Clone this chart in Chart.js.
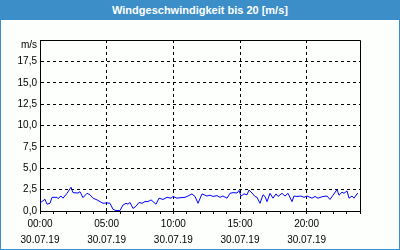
<!DOCTYPE html>
<html>
<head>
<meta charset="utf-8">
<script src="https://cdn.jsdelivr.net/npm/chart.js@4.4.1/dist/chart.umd.min.js"></script>
<style>
  html, body { margin: 0; padding: 0; background: #fdfffd; }
  #frame { position: relative; width: 400px; height: 250px; overflow: hidden; }
  #title {
    position: absolute; left: 0; top: 0; width: 400px; height: 20px;
    background: #3c8ec8; color: #fff; text-align: center;
    font: bold 11px "Liberation Sans", sans-serif; line-height: 20px;
  }
  #box {
    position: absolute; left: 0; top: 20px; width: 398px; height: 229px;
    border: 1px solid #3c8ec8; border-top: none; background: #fdfffd;
  }
  canvas { display: block; }
</style>
</head>
<body>
<div id="frame">
  <div id="title">Windgeschwindigkeit bis 20 [m/s]</div>
  <div id="box"><canvas id="windChart" width="398" height="229"></canvas></div>
</div>
<script>
// Daten (Stunden ab 00:00 am 30.07.19, Wind in m/s)
const hours = [
  0, 0.375, 0.525, 0.75, 0.9, 1.275, 1.35, 1.575, 1.725, 2.025,
  2.325, 2.475, 2.85, 3.0, 3.225, 3.525, 3.75, 3.975, 4.275, 4.5,
  4.725, 5.025, 5.25, 5.475, 5.7, 6.0, 6.225, 6.45, 6.6, 6.75,
  6.975, 7.2, 7.425, 7.65, 7.875, 8.1, 8.325, 8.475, 8.7, 8.925,
  9.225, 9.525, 9.825, 9.975, 10.275, 10.5, 10.875, 11.1, 11.4, 11.625,
  11.85, 12.15, 12.525, 12.75, 12.975, 13.275, 13.5, 13.725, 14.025, 14.25,
  14.475, 14.775, 14.925, 15.075, 15.3, 15.525, 15.675, 15.9, 16.125, 16.275,
  16.5, 16.725, 16.875, 17.025, 17.25, 17.475, 17.7, 17.85, 18.15, 18.375,
  18.6, 18.9, 19.05, 19.275, 19.575, 19.8, 20.025, 20.4, 20.625, 20.85,
  21.225, 21.525, 21.75, 21.975, 22.275, 22.425, 22.65, 22.8, 23.025, 23.175,
  23.4, 23.55, 23.775, 23.85
];
const speeds = [
  0.94, 1.37, 0.8, 0.9, 1.6, 1.6, 1.45, 1.75, 1.5, 2.07,
  2.78, 2.15, 2.1, 2.26, 1.56, 2.07, 1.9, 1.5, 1.3, 1.1,
  0.9, 0.95, 0.9, 0.2, 0.05, 0.05, 0.7, 0.9, 0.8, 1.0,
  0.3, 0.55, 1.0, 0.9, 1.1, 1.1, 1.3, 1.1, 0.8, 1.5,
  1.35, 1.6, 1.5, 1.7, 1.5, 1.55, 1.6, 1.75, 2.0, 1.7,
  0.9, 2.0, 1.75, 1.85, 1.7, 1.8, 1.6, 1.75, 1.5, 2.07,
  2.15, 2.1, 2.4, 1.75, 2.0, 1.9, 2.45, 2.1, 1.7, 1.6,
  0.9, 1.9, 1.7, 1.1, 2.07, 1.5, 2.0, 1.7, 2.07, 1.75,
  2.07, 1.1, 1.75, 1.7, 1.75, 1.6, 1.75, 1.5, 1.7, 1.5,
  1.7, 1.75, 1.35, 1.85, 2.5, 1.85, 2.2, 2.07, 2.35, 1.5,
  1.75, 1.5, 2.0, 2.07
];
const xLabels = ["00:00", "05:00", "10:00", "15:00", "20:00"];
const datum = "30.07.19";
const yUnit = "m/s";

const points = hours.map((h, i) => ({ x: h, y: speeds[i] }));
const schrift = { family: "Liberation Sans", size: 10 };

// Rahmen oben/rechts und Einheit über der Y-Achse
const rahmenPlugin = {
  id: "rahmen",
  afterDraw(chart) {
    const { ctx, chartArea } = chart;
    ctx.save();
    ctx.strokeStyle = "#000";
    ctx.lineWidth = 1;
    ctx.beginPath();
    ctx.moveTo(Math.round(chartArea.left) + 0.5, Math.round(chartArea.top) + 0.5);
    ctx.lineTo(Math.round(chartArea.right) + 0.5, Math.round(chartArea.top) + 0.5);
    ctx.lineTo(Math.round(chartArea.right) + 0.5, Math.round(chartArea.bottom) + 0.5);
    ctx.stroke();
    ctx.fillStyle = "#000";
    ctx.font = "10px 'Liberation Sans'";
    ctx.textAlign = "right";
    ctx.textBaseline = "middle";
    ctx.fillText(yUnit, chartArea.left - 3, chartArea.top + 5);
    ctx.restore();
  }
};

new Chart(document.getElementById("windChart"), {
  type: "line",
  data: {
    datasets: [{
      data: points,
      borderColor: "#0000ff",
      borderWidth: 1,
      pointRadius: 0,
      tension: 0,
      fill: false
    }]
  },
  options: {
    responsive: false,
    animation: false,
    events: [],
    layout: { padding: { left: 0, right: 39, top: 20, bottom: 0 } },
    plugins: { legend: { display: false }, tooltip: { enabled: false } },
    scales: {
      x: {
        type: "linear",
        min: 0,
        max: 24,
        afterFit: (scale) => { scale.height = 38; },
        ticks: {
          stepSize: 1,
          autoSkip: false,
          maxRotation: 0,
          padding: 2,
          color: "#000",
          font: { family: "Liberation Sans", size: 10, lineHeight: 1.6 },
          callback: (v) => (v % 5 === 0 ? [xLabels[v / 5], datum] : "")
        },
        grid: {
          color: (c) => (c.tick && c.tick.value % 5 === 0 ? "#000" : "transparent"),
          tickColor: "#000",
          tickLength: 3,
          lineWidth: 1
        },
        border: { color: "#000", width: 1, dash: [3, 3] }
      },
      y: {
        min: 0,
        max: 20,
        afterFit: (scale) => { scale.width = 39; },
        ticks: {
          stepSize: 2.5,
          padding: 3,
          color: "#000",
          font: schrift,
          callback: (v) => (v >= 20 ? "" : v.toFixed(1).replace(".", ","))
        },
        grid: { color: "#000", drawTicks: false, lineWidth: 1 },
        border: { color: "#000", width: 1, dash: [3, 3] }
      }
    }
  },
  plugins: [rahmenPlugin]
});
</script>
</body>
</html>
